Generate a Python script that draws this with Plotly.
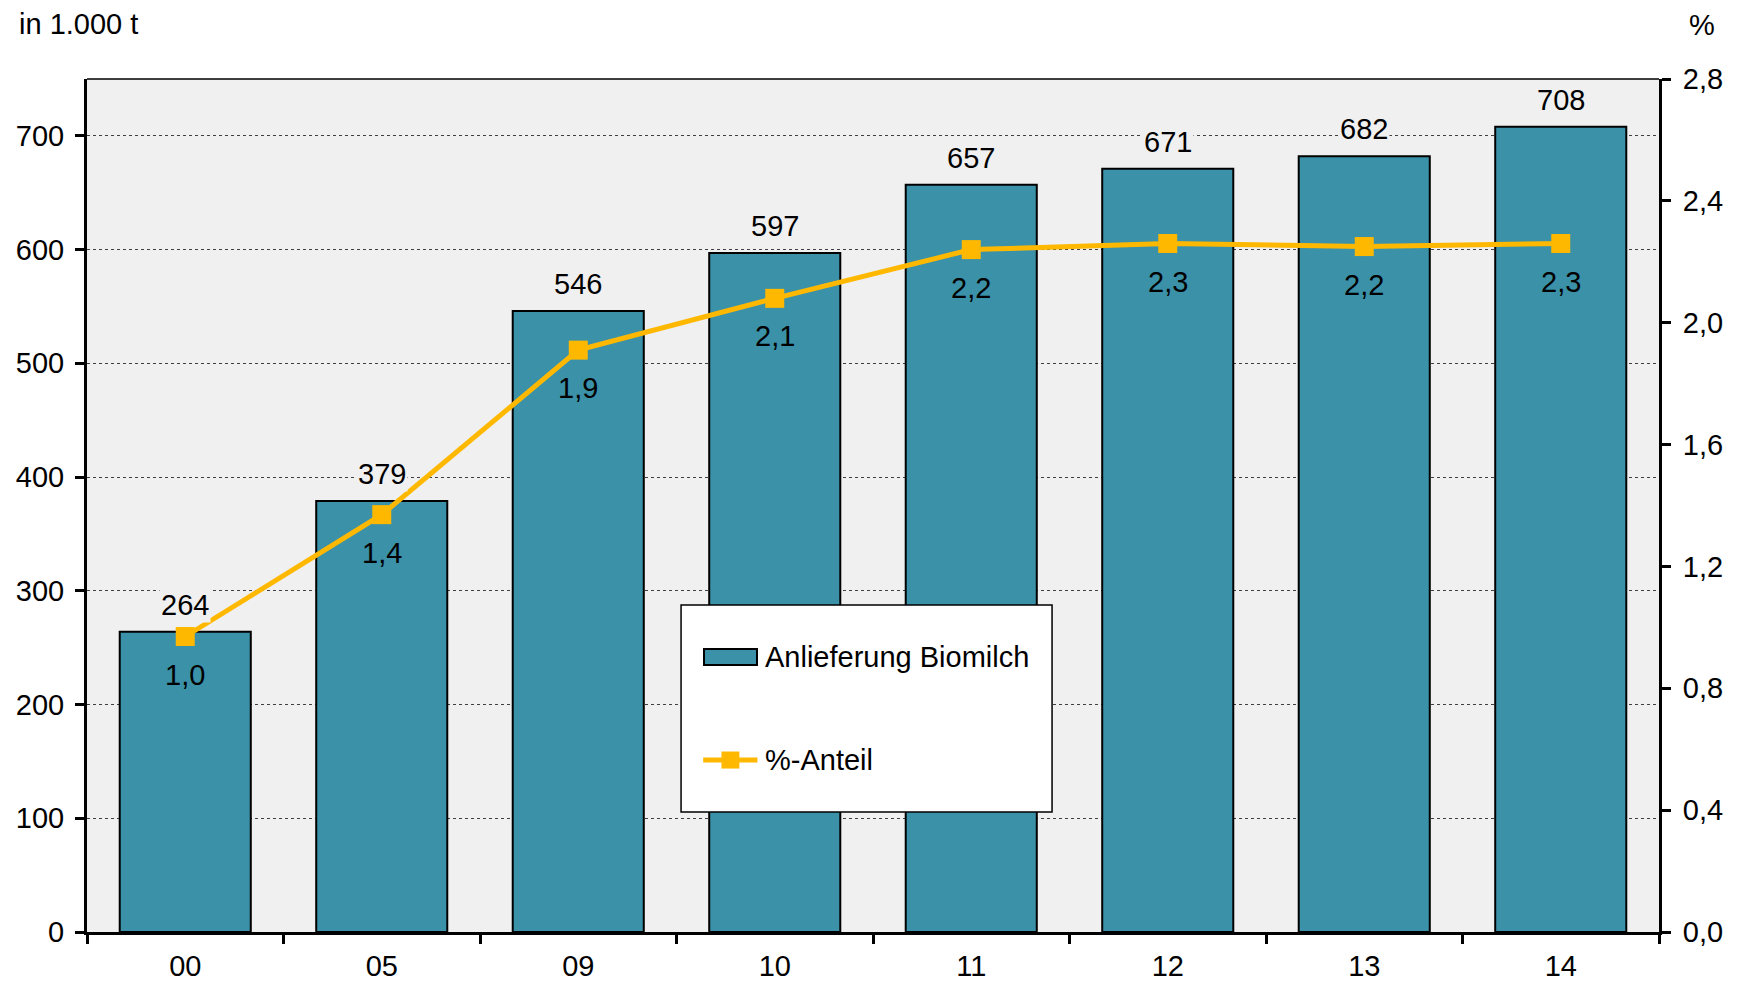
import plotly.graph_objects as go

years = ["00", "05", "09", "10", "11", "12", "13", "14"]
delivery = [264, 379, 546, 597, 657, 671, 682, 708]
share = [0.97, 1.37, 1.91, 2.08, 2.24, 2.26, 2.25, 2.26]
share_labels = ["1,0", "1,4", "1,9", "2,1", "2,2", "2,3", "2,2", "2,3"]
left_ticks = [0, 100, 200, 300, 400, 500, 600, 700]
right_ticks = [0.0, 0.4, 0.8, 1.2, 1.6, 2.0, 2.4, 2.8]

BAR = "#3A91A8"
LINE = "#FFB800"
BG = "#F0F0F0"
FONT = "Liberation Sans, Arial, sans-serif"
FS = 29

fig = go.Figure()
fig.add_trace(go.Bar(
    x=years, y=delivery, name="Anlieferung Biomilch",
    marker=dict(color=BAR, line=dict(color="black", width=2)),
))
fig.add_trace(go.Scatter(
    x=years, y=share, name="%-Anteil", yaxis="y2",
    mode="lines+markers",
    line=dict(color=LINE, width=5),
    marker=dict(symbol="square", size=19, color=LINE),
))

annotations = []
for i, v in enumerate(delivery):
    annotations.append(dict(
        x=i, y=v, xref="x", yref="y", text=str(v), showarrow=False,
        yanchor="middle", yshift=27, bgcolor=BG, borderpad=1,
        font=dict(size=FS, color="black", family=FONT),
    ))
for i, (v, t) in enumerate(zip(share, share_labels)):
    annotations.append(dict(
        x=i, y=v, xref="x", yref="y2", text=t, showarrow=False,
        yanchor="middle", yshift=-38,
        font=dict(size=FS, color="black", family=FONT),
    ))
annotations.append(dict(
    x=-0.0440, y=1.0645, xref="paper", yref="paper", text="in 1.000 t",
    showarrow=False, xanchor="left", yanchor="middle", borderpad=0,
    font=dict(size=FS, color="black", family=FONT),
))
annotations.append(dict(
    x=1.0274, y=1.0633, xref="paper", yref="paper", text="%",
    showarrow=False, xanchor="center", yanchor="middle", borderpad=0,
    font=dict(size=FS, color="black", family=FONT),
))
# legend texts
annotations.append(dict(
    x=0.4300, y=0.3224, xref="paper", yref="paper", text="Anlieferung Biomilch",
    showarrow=False, xanchor="left", yanchor="middle",
    font=dict(size=FS, color="black", family=FONT),
))
annotations.append(dict(
    x=0.4300, y=0.2016, xref="paper", yref="paper", text="%-Anteil",
    showarrow=False, xanchor="left", yanchor="middle",
    font=dict(size=FS, color="black", family=FONT),
))

shapes = [
    dict(type="line", xref="paper", yref="paper", x0=0, x1=1, y0=1, y1=1,
         line=dict(color="black", width=1.5)),
    # legend box
    dict(type="rect", xref="paper", yref="paper", x0=0.3779, x1=0.6139,
         y0=0.1407, y1=0.3834, fillcolor="white", line=dict(color="black", width=1.5),
         layer="above"),
    # bar symbol
    dict(type="rect", xref="paper", yref="paper", x0=0.3925, x1=0.4262,
         y0=0.3130, y1=0.3318, fillcolor=BAR, line=dict(color="black", width=2),
         layer="above"),
    # line symbol
    dict(type="line", xref="paper", yref="paper", x0=0.3920, x1=0.4265,
         y0=0.2016, y1=0.2016, line=dict(color=LINE, width=5), layer="above"),
    dict(type="rect", xref="paper", yref="paper", x0=0.4036, x1=0.4150,
         y0=0.1916, y1=0.2116, fillcolor=LINE, line=dict(color=LINE, width=0),
         layer="above"),
]

fig.update_layout(
    width=1739, height=982,
    margin=dict(l=79, r=88, t=71, b=58, autoexpand=False),
    paper_bgcolor="white", plot_bgcolor=BG,
    separators=",.",
    font=dict(family=FONT, size=FS, color="black"),
    bargap=0.333,
    showlegend=False,
    xaxis=dict(
        type="category", range=[-0.5, 7.5], showline=True, linecolor="black", linewidth=3,
        ticks="outside", ticklen=9, tickwidth=3, tickcolor="black",
        tickson="boundaries", showgrid=False, ticklabelstandoff=6, automargin=False,
        tickfont=dict(size=FS, color="black"),
    ),
    yaxis=dict(
        range=[0, 750], tickvals=left_ticks, showline=True, linecolor="black",
        linewidth=3, ticks="outside", ticklen=9, tickwidth=3, tickcolor="black",
        showgrid=True, gridcolor="#404040", gridwidth=1, griddash="dot",
        zeroline=False, ticklabelstandoff=5, automargin=False,
        tickfont=dict(size=FS, color="black"),
    ),
    yaxis2=dict(
        range=[0, 2.8], tickvals=right_ticks, tickformat=".1f",
        overlaying="y", side="right", showline=True, linecolor="black",
        linewidth=3, ticks="outside", ticklen=9, tickwidth=3, tickcolor="black",
        showgrid=False, zeroline=False, ticklabelstandoff=6, automargin=False,
        tickfont=dict(size=FS, color="black"),
    ),
    annotations=annotations,
    shapes=shapes,
)

fig.write_html("out.html")
